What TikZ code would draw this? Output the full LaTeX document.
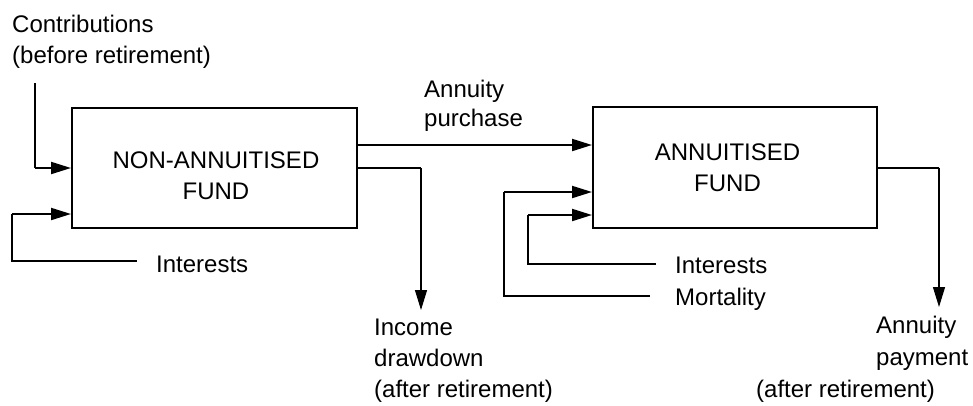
\documentclass[tikz,border=0pt]{standalone}
\usepackage{fontspec}
\setmainfont{Liberation Sans}
\usetikzlibrary{arrows.meta,calc}
\begin{document}
\begin{tikzpicture}[x=1pt,y=-1pt,
  every node/.style={inner sep=0pt, font=\fontsize{24}{31}\selectfont},
  fund/.style={draw, line width=2pt, minimum width=285pt, minimum height=120pt},
  lbl/.style={anchor=north west, align=left},
  boxtext/.style={align=center},
  feed/.style={line width=1.2pt},
  flow/.style={line width=2pt, -{Triangle[length=20pt,width=12pt]}},
  drop/.style={line width=1.2pt, -{Triangle[length=20pt,width=12pt]}},
]
\useasboundingbox (0,0) rectangle (973,405);

% the two funds
\node[fund] (nf) at (214.5,168) {};
\node[fund, minimum width=284pt, minimum height=121pt] (af) at (735,167.5) {};
\node[boxtext] (nft) at (216,175.4) {NON-ANNUITISED\\FUND};
\node[boxtext] (aft) at (727.5,167.4) {ANNUITISED\\FUND};

% labels
\node[lbl] (contrib) at (12,14.7) {Contributions\\(before retirement)};
\node[lbl] (lint) at (156,255.7) {Interests};
\node[lbl, font=\fontsize{24}{29}\selectfont] (purch) at (424,80.4) {Annuity\\purchase};
\node[lbl] (income) at (374,318.7) {Income\\drawdown\\(after retirement)};
\node[lbl] (rint) at (675,256.7) {Interests};
\node[lbl] (rmort) at (675,287.7) {Mortality};
\node[lbl, font=\fontsize{24}{32}\selectfont] (pay) at (876,315.7) {Annuity\\payment};
\node[lbl] (payafter) at (756,379.4) {(after retirement)};

% bends and free ends of the connectors
\coordinate (c0) at (35,83);
\coordinate (li0) at (137,261);
\coordinate (li1) at (12,214);
\coordinate (dd) at (421,310);
\coordinate (m0) at (650,296);
\coordinate (m1) at (504,192);
\coordinate (i0) at (656,264);
\coordinate (i1) at (528,215);
\coordinate (pt) at (939,307);

% contributions into the non-annuitised fund
\draw[feed] (c0) -- (c0 |- nf.west);
\draw[flow] (c0 |- nf.west) -- (nf.west);

% interests loop on the non-annuitised fund
\draw[feed] (li0) -| (li1);
\draw[flow] (li1) -- (nf.west |- li1);

% annuity purchase
\draw[flow] ($(nf.east)+(0,-23)$) -- ($(af.west)+(0,-22.5)$);

% income drawdown
\draw[line width=2pt] (nf.east) -- (nf.east -| dd);
\draw[drop] (nf.east -| dd) -- (dd);

% mortality and interests into the annuitised fund
\draw[feed] (m0) -| (m1);
\draw[flow] (m1) -- (af.west |- m1);
\draw[feed] (i0) -| (i1);
\draw[flow] (i1) -- (af.west |- i1);

% annuity payment
\draw[line width=2pt] (af.east) -- (af.east -| pt);
\draw[drop] (af.east -| pt) -- (pt);
\end{tikzpicture}
\end{document}
